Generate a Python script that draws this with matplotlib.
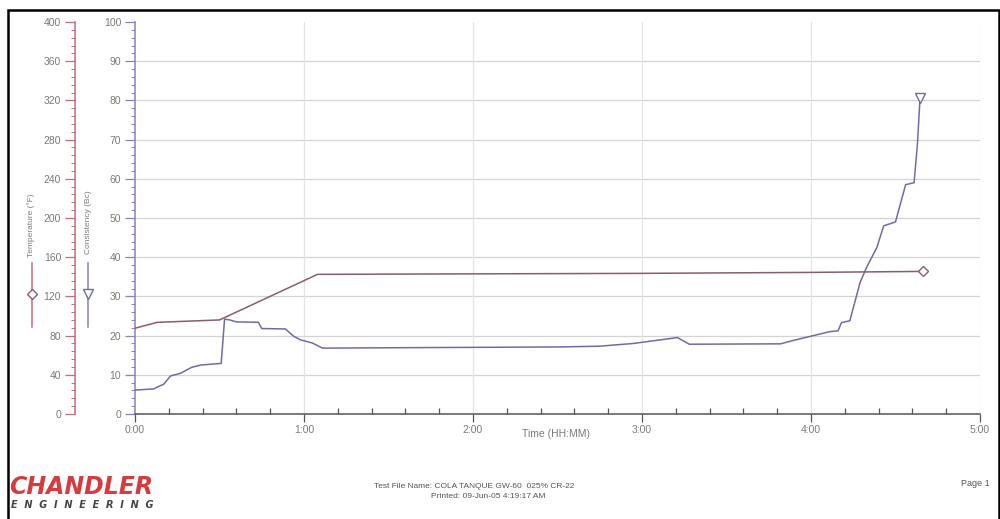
import matplotlib
matplotlib.use("Agg")
import matplotlib.pyplot as plt
from matplotlib.lines import Line2D
from matplotlib.patches import Rectangle
from matplotlib.ticker import MultipleLocator, FuncFormatter

plt.rcParams['font.family'] = ['Liberation Sans', 'DejaVu Sans']

# Temperature profile (hours, degrees F)
time_temp = [0.00, 0.13, 0.50, 1.08, 2.00, 3.00, 4.00, 4.66]
temp_f = [87.5, 93.5, 96.0, 142.5, 143.0, 143.5, 144.5, 145.5]

# Consistency profile (hours, Bc)
time_cons = [0.00, 0.11, 0.17, 0.21, 0.27, 0.335, 0.39, 0.51, 0.53, 0.56,
             0.60, 0.73, 0.75, 0.89, 0.94, 0.98, 1.05, 1.11, 1.50, 2.00,
             2.50, 2.75, 2.95, 3.21, 3.28, 3.82, 3.88, 4.11, 4.16, 4.18,
             4.23, 4.29, 4.33, 4.39, 4.43, 4.50, 4.56, 4.61, 4.63, 4.645]
cons_bc = [6.1, 6.4, 7.6, 9.7, 10.4, 11.9, 12.5, 12.9, 24.2, 24.0,
           23.5, 23.4, 21.8, 21.7, 19.8, 18.9, 18.1, 16.8, 16.9, 17.0,
           17.1, 17.3, 18.0, 19.5, 17.8, 17.9, 18.6, 21.0, 21.2, 23.3,
           23.8, 33.5, 37.5, 42.5, 48.0, 49.0, 58.5, 59.0, 69.0, 80.5]

x_ticks = [0, 1, 2, 3, 4, 5]
cons_ticks = list(range(0, 101, 10))
temp_ticks = list(range(0, 401, 40))

TEMP_COLOR = '#8a5c6c'
TEMP_AXIS = '#c86a7a'
CONS_COLOR = '#6e6ca6'
CONS_AXIS = '#8683c0'
LABEL_GRAY = '#7a7a7a'

fig = plt.figure(figsize=(10, 5.19), dpi=100)
fig.patch.set_facecolor('white')

W, H = 1000.0, 519.0
left, right, bottom, top = 135, 980, 414, 22
ax = fig.add_axes([left / W, 1 - bottom / H, (right - left) / W, (bottom - top) / H])
ax.set_xlim(0, 5)
ax.set_ylim(0, 100)


def fx(px):
    return px / W


def fy(py):
    return 1 - py / H


# grid
for v in cons_ticks[1:-1]:
    ax.axhline(v, color='#d4d4d4', lw=0.9, zorder=0)
for t in x_ticks[1:]:
    ax.axvline(t, color='#e4e4e4', lw=0.9, zorder=0)

for s in ['top', 'right']:
    ax.spines[s].set_visible(False)
ax.spines['left'].set_color(CONS_AXIS)
ax.spines['left'].set_linewidth(1.1)
ax.spines['bottom'].set_color('#555555')
ax.spines['bottom'].set_linewidth(1.1)

ax.set_xticks(x_ticks)
ax.xaxis.set_minor_locator(MultipleLocator(0.2))
ax.xaxis.set_major_formatter(FuncFormatter(lambda v, p: f"{int(v)}:00"))
ax.tick_params(axis='x', which='major', direction='out', length=6, width=0.9,
               color='#555555', labelsize=7.5, labelcolor=LABEL_GRAY, pad=2)
ax.tick_params(axis='x', which='minor', direction='in', length=4, width=0.9,
               color='#555555')

ax.set_yticks(cons_ticks)
ax.yaxis.set_minor_locator(MultipleLocator(2))
ax.tick_params(axis='y', which='major', direction='out', length=7, width=0.9,
               color=CONS_AXIS, labelsize=7.5, labelcolor=LABEL_GRAY, pad=3)
ax.tick_params(axis='y', which='minor', direction='out', length=3, width=0.7,
               color=CONS_AXIS)

# x-axis title sits level with the tick labels, between 2:00 and 3:00
fig.text(fx(556), fy(434), 'Time (HH:MM)', fontsize=7.5, color=LABEL_GRAY,
         ha='center', va='center')

ax.plot(time_cons, cons_bc, color=CONS_COLOR, lw=1.1, zorder=3,
        marker='v', markevery=[-1], markersize=7, markerfacecolor='white',
        markeredgecolor=CONS_COLOR, markeredgewidth=1.0)

# temperature scale on its own left spine
ax2 = ax.twinx()
ax2.set_ylim(0, 400)
ax2.yaxis.set_ticks_position('left')
ax2.yaxis.set_label_position('left')
for s in ['top', 'right', 'bottom']:
    ax2.spines[s].set_visible(False)
ax2.spines['left'].set_position(('axes', (75 - left) / (right - left)))
ax2.spines['left'].set_color(TEMP_AXIS)
ax2.spines['left'].set_linewidth(1.1)
ax2.set_yticks(temp_ticks)
ax2.yaxis.set_minor_locator(MultipleLocator(8))
ax2.tick_params(axis='y', which='major', direction='out', length=7, width=0.9,
                color=TEMP_AXIS, labelsize=7.5, labelcolor=LABEL_GRAY, pad=3)
ax2.tick_params(axis='y', which='minor', direction='out', length=3, width=0.7,
                color=TEMP_AXIS)

ax2.plot(time_temp, temp_f, color=TEMP_COLOR, lw=1.1, zorder=3,
         marker='D', markevery=[-1], markersize=5, markerfacecolor='white',
         markeredgecolor=TEMP_COLOR, markeredgewidth=1.0)

# axis legends drawn beside the scales
fig.add_artist(Line2D([fx(32), fx(32)], [fy(263), fy(327)], color=TEMP_AXIS, lw=1.1))
fig.add_artist(Line2D([fx(32)], [fy(294)], marker='D', markersize=5,
                      markerfacecolor='white', markeredgecolor=TEMP_COLOR, markeredgewidth=1.0))
fig.text(fx(31), fy(225), 'Temperature (°F)', rotation=90, ha='center', va='center',
         fontsize=6, color=LABEL_GRAY)

fig.add_artist(Line2D([fx(88), fx(88)], [fy(263), fy(327)], color=CONS_AXIS, lw=1.1))
fig.add_artist(Line2D([fx(88)], [fy(294)], marker='v', markersize=7,
                      markerfacecolor='white', markeredgecolor=CONS_COLOR, markeredgewidth=1.0))
fig.text(fx(89), fy(222), 'Consistency (Bc)', rotation=90, ha='center', va='center',
         fontsize=6, color=LABEL_GRAY)

# page footer
fig.text(fx(9), fy(487), 'CHANDLER', fontsize=17, fontweight='bold', fontstyle='italic',
         family='DejaVu Sans', color='#d63b3e', ha='left', va='center')
fig.text(fx(11), fy(505), 'E  N  G  I  N  E  E  R  I  N  G', fontsize=7, fontweight='bold',
         fontstyle='italic', family='DejaVu Sans', color='#444444', ha='left', va='center')
fig.text(fx(474), fy(487), 'Test File Name: COLA TANQUE GW-60  025% CR-22', fontsize=6,
         color='#555555', ha='center', va='center')
fig.text(fx(488), fy(497), 'Printed: 09-Jun-05 4:19:17 AM', fontsize=6,
         color='#555555', ha='center', va='center')
fig.text(fx(990), fy(484), 'Page 1', fontsize=6.5, color='#555555', ha='right', va='center')

# page frame
fig.add_artist(Rectangle((fx(8), -0.05), fx(999) - fx(8), fy(10) + 0.05,
                         transform=fig.transFigure, fill=False, edgecolor='black', lw=1.8))

fig.savefig('out.png', dpi=100, facecolor='white')
